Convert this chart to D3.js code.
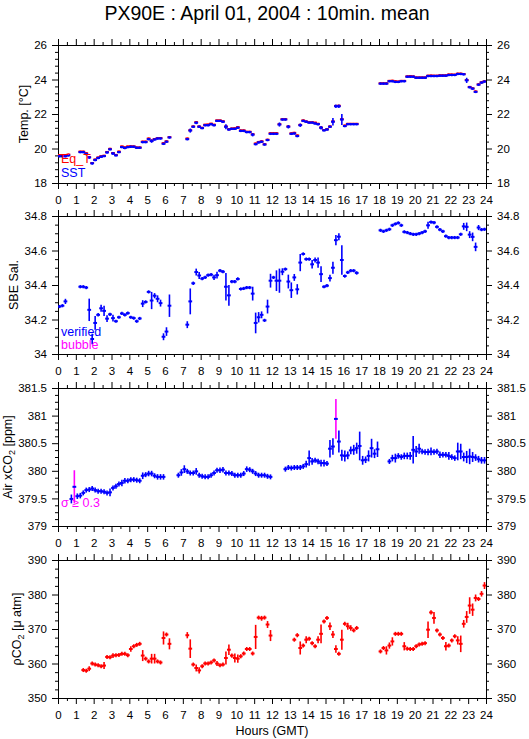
<!DOCTYPE html>
<html><head><meta charset="utf-8">
<script src="https://cdn.jsdelivr.net/npm/d3@7"></script>
<style>
body{margin:0;background:#fff}
svg{display:block;font-family:"Liberation Sans",Arial,Helvetica,sans-serif}
</style>
</head><body>
<svg id="chart" width="529" height="739"></svg>
<script>
// ---------- DATA (time = minute of day at start of the 10-min bin, value, std) ----------
const titleText = "PX90E : April 01, 2004 : 10min. mean";
const hourLabels = d3.range(0, 25);

const sstData = [[0,19.55],[10,19.55],[20,19.55],[30,19.6],[70,19.79],[80,19.79],[90,19.68,0.08],[100,19.48,0.08],[110,19.14,0.08],[120,19.33,0.04],[130,19.45],[140,19.52],[150,19.56,0.03],[160,19.77,0.08],[170,19.95,0.05],[180,19.71,0.08],[190,19.6,0.03],[200,19.79,0.06],[210,20.08],[220,20.03],[230,20.08],[240,20.1],[250,20.1],[260,20.04],[270,20.04],[280,20.37],[290,20.37],[300,20.54],[310,20.43,0.1],[320,20.52],[330,20.58],[340,20.58],[350,20.27],[360,20.39],[370,20.64,0.05],
[430,20.54],[440,21.04,0.12],[450,21.26],[460,21.49,0.08],[470,21.26],[480,21.18],[490,21.35],[500,21.35],[510,21.41],[520,21.35],[530,21.6],[540,21.6],[550,21.55],[560,21.26,0.15],[570,21.1],[580,21.14],[590,21.14],[600,21.2],[610,21.02],[620,21.02],[630,20.95],[640,20.95],[650,20.8,0.1],[660,20.25,0.05],[670,20.35],[680,20.39],[690,20.23],[700,20.49,0.06],[710,20.85],[720,20.85],[730,20.85],[740,21.39,0.12],[750,21.68],[760,21.68],[770,21.26,0.1],[780,20.85],[790,20.87],[800,20.72],[810,21.35,0.1],[820,21.6],[830,21.55],[840,21.5],[850,21.5],[860,21.45],[870,21.41],[880,21.2,0.1],[890,21.05],[900,21.1],[910,21.26],[920,21.55,0.22],[930,22.45,0.1],[940,22.45,0.1],[950,21.68,0.32],[960,21.3],[970,21.41],[980,21.41],[990,21.41],[1000,21.41],
[1080,23.76],[1090,23.76],[1100,23.76],[1110,23.9],[1120,23.9],[1130,23.86],[1140,23.86],[1150,23.9],[1160,23.9],[1170,24.16],[1180,24.16],[1190,24.16],[1200,24.1],[1210,24.1],[1220,24.1],[1230,24.1],[1240,24.2],[1250,24.2],[1260,24.2],[1270,24.2],[1280,24.22],[1290,24.22],[1300,24.22],[1310,24.26],[1320,24.26],[1330,24.26],[1340,24.32],[1350,24.32],[1360,24.3],[1370,23.95,0.15],[1380,23.55,0.04],[1390,23.47,0.05],[1400,23.28,0.05],[1410,23.7],[1420,23.82],[1430,23.88]];

const eqtData = [[0,19.62],[10,19.62],[20,19.6],[30,19.65],[70,19.82],[80,19.82],[90,19.73],[100,19.5],[110,19.16],[120,19.36],[130,19.48],[140,19.55],[150,19.58],[160,19.8],[170,19.98],[180,19.74],[190,19.63],[200,19.82],[210,20.12],[220,20.07],[230,20.12],[240,20.13],[250,20.12],[260,20.06],[270,20.06],[280,20.4],[290,20.4],[300,20.58],[310,20.46],[320,20.55],[330,20.6],[340,20.61],[350,20.31],[360,20.42],[370,20.66],
[430,20.58],[440,21.06],[450,21.28],[460,21.53],[470,21.28],[480,21.2],[490,21.38],[500,21.39],[510,21.44],[520,21.38],[530,21.63],[540,21.63],[550,21.58],[560,21.28],[570,21.12],[580,21.16],[590,21.17],[600,21.24],[610,21.05],[620,21.05],[630,20.97],[640,20.97],[650,20.83],[660,20.29],[670,20.38],[680,20.42],[690,20.25],[700,20.51],[710,20.89],[720,20.89],[730,20.89],[740,21.41],[750,21.7],[760,21.7],[770,21.28],[780,20.88],[790,20.91],[800,20.76],[810,21.37],[820,21.63],[830,21.57],[840,21.52],[850,21.52],[860,21.5],[870,21.43],[880,21.22],[890,21.07],[900,21.12],[910,21.28],[920,21.57],[930,22.47],[940,22.48],[950,21.7],[960,21.33],[970,21.43],[980,21.43],[990,21.43],[1000,21.43],
[1080,23.78],[1090,23.78],[1100,23.78],[1110,23.92],[1120,23.93],[1130,23.9],[1140,23.88],[1150,23.92],[1160,23.92],[1170,24.18],[1180,24.2],[1190,24.18],[1200,24.12],[1210,24.12],[1220,24.12],[1230,24.12],[1240,24.22],[1250,24.23],[1260,24.22],[1270,24.22],[1280,24.24],[1290,24.24],[1300,24.24],[1310,24.29],[1320,24.29],[1330,24.28],[1340,24.34],[1350,24.34],[1360,24.32],[1370,23.97],[1380,23.57],[1390,23.49],[1400,23.31],[1410,23.72],[1420,23.84],[1430,23.9]];

const salData = [[0,34.275],[10,34.28],[20,34.305,0.015],[70,34.39],[80,34.39],[90,34.385],[100,34.256,0.065],[110,34.087,0.03],[120,34.18,0.04],[130,34.227,0.01],[140,34.265,0.02],[150,34.25,0.03],[160,34.205,0.02],[170,34.23],[180,34.208,0.02],[190,34.19],[200,34.213],[210,34.235],[220,34.227],[230,34.237],[240,34.213],[250,34.208],[260,34.19],[270,34.206],[280,34.292,0.02],[290,34.302],[300,34.36],[310,34.31,0.05],[320,34.338,0.015],[330,34.32,0.02],[340,34.295,0.02],[350,34.1,0.02],[360,34.13,0.025],[370,34.28,0.065],
[430,34.17,0.02],[440,34.305,0.075],[450,34.41,0.01],[460,34.475,0.02],[470,34.455,0.02],[480,34.437],[490,34.444],[500,34.457],[510,34.46],[520,34.444,0.015],[530,34.457,0.02],[540,34.483],[550,34.477],[560,34.39,0.08],[570,34.34,0.06],[580,34.42],[590,34.42],[600,34.435],[610,34.377],[620,34.38],[630,34.385],[640,34.385],[650,34.35,0.04],[660,34.18,0.06],[670,34.213,0.03],[680,34.227,0.02],[690,34.195],[700,34.275,0.04],[710,34.425,0.04],[720,34.444],[730,34.425,0.06],[740,34.425,0.07],[750,34.477,0.02],[760,34.492],[770,34.42,0.04],[780,34.37,0.045],[790,34.444,0.02],[800,34.375,0.03],[810,34.53,0.05],[820,34.58],[830,34.55],[840,34.55],[850,34.52,0.025],[860,34.545,0.015],[870,34.53,0.03],[880,34.463,0.045],[890,34.39],[900,34.396],[910,34.44,0.02],[920,34.5,0.035],[930,34.66,0.03],[940,34.68,0.02],[950,34.545,0.085],[960,34.452],[970,34.473],[980,34.483],[990,34.483],[1000,34.47,0.01],
[1080,34.717],[1090,34.711],[1100,34.717],[1110,34.723],[1120,34.746],[1130,34.754],[1140,34.76],[1150,34.746],[1160,34.708],[1170,34.704],[1180,34.698],[1190,34.694],[1200,34.694],[1210,34.698],[1220,34.704],[1230,34.711],[1240,34.746,0.02],[1250,34.765],[1260,34.762],[1270,34.737],[1280,34.721],[1290,34.711],[1300,34.683],[1310,34.675],[1320,34.675],[1330,34.675],[1340,34.675],[1350,34.694],[1360,34.74,0.02],[1370,34.737,0.025],[1380,34.692,0.02],[1390,34.679,0.025],[1400,34.621,0.025],[1410,34.733,0.015],[1420,34.721],[1430,34.723]];

const xco2Data = [[40,379.49,0.08],[50,379.71,0.3],[60,379.54,0.05],[70,379.55,0.05],[80,379.6,0.03],[90,379.65,0.04],[100,379.66,0.03],[110,379.68,0.03],[120,379.65,0.03],[130,379.63,0.03],[140,379.63,0.03],[150,379.62,0.03],[160,379.6,0.03],[170,379.61,0.07],[180,379.69,0.03],[190,379.72,0.03],[200,379.76,0.03],[210,379.78,0.06],[220,379.82,0.05],[230,379.82,0.04],[240,379.84,0.04],[250,379.84,0.03],[260,379.83,0.03],[270,379.82,0.03],[280,379.91,0.06],[290,379.93,0.04],[300,379.95,0.05],[310,379.95,0.05],[320,379.91,0.03],[330,379.89,0.05],[340,379.89,0.05],[350,379.89,0.05],
[400,379.92,0.03],[410,379.97,0.06],[420,380.03,0.07],[430,379.99,0.04],[440,379.96,0.03],[450,379.96,0.04],[460,379.99,0.06],[470,379.92,0.03],[480,379.9,0.03],[490,379.89,0.03],[500,379.89,0.03],[510,379.92,0.03],[520,379.96,0.03],[530,380.01,0.03],[540,380.01,0.05],[550,380.02,0.05],[560,379.96,0.03],[570,379.96,0.03],[580,379.95,0.03],[590,379.92,0.03],[600,379.92,0.03],[610,379.92,0.03],[620,379.95,0.03],[630,380.03,0.05],[640,380.02,0.03],[650,379.99,0.04],[660,379.95,0.03],[670,379.92,0.03],[680,379.92,0.03],[690,379.92,0.03],[700,379.9,0.03],[710,379.89,0.02],
[760,380.03,0.03],[770,380.06,0.04],[780,380.05,0.03],[790,380.06,0.03],[800,380.06,0.03],[810,380.06,0.03],[820,380.08,0.03],[830,380.12,0.06],[840,380.23,0.14],[850,380.17,0.06],[860,380.19,0.03],[870,380.17,0.05],[880,380.14,0.06],[890,380.14,0.06],[900,380.13,0.04],[910,380.4,0.16],[920,380.44,0.15],[930,380.94,0.36],[940,380.53,0.2],[950,380.28,0.1],[960,380.27,0.1],[970,380.28,0.07],[980,380.37,0.07],[990,380.38,0.09],[1000,380.41,0.1],[1010,380.45,0.26],[1020,380.19,0.08],[1030,380.2,0.06],[1040,380.27,0.1],[1050,380.41,0.17],[1060,380.31,0.08],[1070,380.39,0.14],
[1110,380.17,0.04],[1120,380.23,0.06],[1130,380.23,0.08],[1140,380.27,0.05],[1150,380.25,0.05],[1160,380.27,0.06],[1170,380.27,0.06],[1180,380.27,0.07],[1190,380.38,0.25],[1200,380.35,0.1],[1210,380.4,0.09],[1220,380.35,0.05],[1230,380.34,0.05],[1240,380.34,0.06],[1250,380.35,0.07],[1260,380.34,0.05],[1270,380.35,0.05],[1280,380.29,0.06],[1290,380.29,0.05],[1300,380.29,0.05],[1310,380.27,0.07],[1320,380.25,0.05],[1330,380.23,0.05],[1340,380.35,0.16],[1350,380.35,0.14],[1360,380.25,0.08],[1370,380.25,0.11],[1380,380.26,0.14],[1390,380.25,0.09],[1400,380.24,0.06],[1410,380.21,0.06],[1420,380.19,0.06],[1430,380.19,0.06]];
const sigmaLimit = 0.3;

const pco2Data = [[80,358.1,0.2],[90,357.9,0.2],[100,358.5,0.7],[110,360,0.3],[120,359.7,0.3],[130,359.5,0.3],[140,359.2,0.5],[150,359.4,1.0],[160,361.9,0.3],[170,361.8,0.3],[180,362.3,0.7],[190,362.4,0.3],[200,362.5,0.3],[210,362.8,0.3],[220,362.8,0.4],[230,362.4,0.3],[240,364.2,0.8],[250,365,0.3],[260,365.4,0.3],[270,365.7,0.3],[280,362.3,1.6],[290,361.4,0.3],[300,360.6,0.4],[310,361.4,1.4],[320,361.4,1.4],[330,360.6,0.3],[340,360.3,0.3],[350,367.4,1.9],[360,368.4,0.4],[370,365.7,1.6],
[430,368.2,0.9],[440,364.3,2.7],[450,359.7,0.4],[460,358.7,1],[470,358,0.9],[480,359.2,0.4],[490,360,0.3],[500,360,0.3],[510,360.3,0.3],[520,360.9,0.4],[530,360,0.7],[540,359.5,0.3],[550,359.7,0.3],[560,361.6,1.9],[570,364,1.5],[580,362.3,0.6],[590,361.6,1.3],[600,361.4,1.2],[610,362.1,0.6],[620,362.9,0.3],[630,364.2,0.4],[640,364.2,0.3],[650,362.9,0.5],[660,367.7,3.5],[670,373.3,0.4],[680,373.1,0.7],[690,373.3,0.3],[700,371.3,1],[710,368.1,1.6],
[790,366.9,0.4],[800,368.2,0.6],[810,364.5,1.9],[820,365.2,0.3],[830,366.9,1],[840,367.2,0.5],[850,365.9,0.4],[860,365,0.5],[870,366.9,1],[880,368.6,2.7],[890,372.2,0.4],[900,373.2,0.3],[910,370.8,1.1],[920,368.4,1],[930,364.2,1.1],[940,362.8,0.3],[950,366.9,2.9],[960,371.5,0.4],[970,370.8,1],[980,370.3,0.8],[990,369.6,0.4],[1000,370.3,0.3],
[1080,363.5,0.3],[1090,364.5,0.4],[1100,363.8,1.2],[1110,365.2,0.9],[1120,366.4,1.2],[1130,368.6,0.5],[1140,368.6,0.5],[1150,368.6,0.5],[1160,365,1.2],[1170,364.3,0.3],[1180,364.2,0.3],[1190,364.2,0.3],[1200,365,0.5],[1210,365.5,0.3],[1220,365.7,0.3],[1230,365.9,0.3],[1240,369.8,2.4],[1250,374.8,0.6],[1260,373.2,1.7],[1270,369.6,0.5],[1280,368.4,0.3],[1290,367.4,0.3],[1300,365,1.2],[1310,365.2,0.5],[1320,366.7,0.5],[1330,367.9,0.4],[1340,366.7,1.2],[1350,365.7,2.4],[1360,371.5,1.1],[1370,373.5,1.7],[1380,376.8,2.4],[1390,375.6,1.8],[1400,379,1],[1410,378.7,0.4],[1420,380.2,0.8],[1430,382.6,1]];

const tempTicks = [18, 20, 22, 24, 26];
const salTicks = [34, 34.2, 34.4, 34.6, 34.8];
const xco2Ticks = [379, 379.5, 380, 380.5, 381, 381.5];
const pco2Ticks = [350, 360, 370, 380, 390];

// ---------- DRAWING ----------
const BLUE = "#0000ff", RED = "#ff0000", MAGENTA = "#ff00ff";
const svg = d3.select("#chart");
const L = 58, R = 486;
const x = d3.scaleLinear().domain([0, 24]).range([L, R]);

svg.append("text").attr("x", 267).attr("y", 19.5).attr("text-anchor", "middle")
  .attr("font-size", 19.5).text(titleText);

function makePanel(opts) {
  const { top, bottom, ticks, minorStep, label, labelX, id } = opts;
  const y = d3.scaleLinear().domain([ticks[0], ticks[ticks.length - 1]]).range([bottom, top]);
  const g = svg.append("g");
  const minors = d3.range(ticks[0], ticks[ticks.length - 1] + 1e-9, minorStep)
    .filter(v => !ticks.some(t => Math.abs(t - v) < 1e-6));
  const hourMinor = d3.range(0.5, 24, 1);
  const fmt = d3.format("~g");
  function axis(gen, tr, vals, size, pad, showLabels) {
    const a = gen.tickValues(vals).tickSize(size).tickSizeOuter(0).tickPadding(pad);
    if (!showLabels) a.tickFormat("");
    const gg = g.append("g").attr("transform", tr).call(a);
    gg.select(".domain").remove();
    gg.selectAll("line").attr("stroke", "#000").attr("stroke-width", 1);
    gg.selectAll("text").attr("font-size", 11.5).attr("fill", "#000")
      .attr("font-family", '"Liberation Sans", Arial, sans-serif');
    return gg;
  }
  axis(d3.axisLeft(y).tickFormat(fmt), `translate(${L},0)`, ticks, 6, 5, true);
  axis(d3.axisLeft(y), `translate(${L},0)`, minors, 3, 5, false);
  axis(d3.axisRight(y).tickFormat(fmt), `translate(${R},0)`, ticks, 6, 5, true);
  axis(d3.axisRight(y), `translate(${R},0)`, minors, 3, 5, false);
  axis(d3.axisTop(x), `translate(0,${top})`, hourLabels, 6, 3, false);
  axis(d3.axisTop(x), `translate(0,${top})`, hourMinor, 3, 3, false);
  axis(d3.axisBottom(x).tickFormat(d3.format("d")), `translate(0,${bottom})`, hourLabels, 6, 7, true);
  axis(d3.axisBottom(x), `translate(0,${bottom})`, hourMinor, 3, 3, false);

  g.append("rect").attr("x", L).attr("y", top).attr("width", R - L).attr("height", bottom - top)
    .attr("fill", "none").attr("stroke", "#000").attr("stroke-width", 1).attr("shape-rendering", "crispEdges");

  svg.append("clipPath").attr("id", "clip" + id).append("rect")
    .attr("x", L).attr("y", top).attr("width", R - L).attr("height", bottom - top);
  const dg = svg.append("g").attr("clip-path", `url(#clip${id})`);

  const lt = svg.append("text")
    .attr("transform", `translate(${labelX},${(top + bottom) / 2}) rotate(-90)`)
    .attr("text-anchor", "middle").attr("font-size", 12.5).attr("fill", "#000");
  label(lt);
  return { y, dg };
}

function drawMarks(dg, y, data, opts) {
  const { color, minHalf, vw = 1.6, hw = 2, vColorFn } = opts;
  const pts = data.map(d => {
    const m = d[0], v = d[1], e = d[2] || 0;
    return { x0: x(m / 60), x1: x((m + 10) / 60), v, e };
  });
  const g = dg.append("g");
  g.selectAll("line.v").data(pts).join("line").attr("class", "v")
    .attr("x1", d => (d.x0 + d.x1) / 2).attr("x2", d => (d.x0 + d.x1) / 2)
    .attr("y1", d => Math.min(y(d.v + d.e), y(d.v) - minHalf))
    .attr("y2", d => Math.max(y(d.v - d.e), y(d.v) + minHalf))
    .attr("stroke", d => vColorFn ? vColorFn(d) : color).attr("stroke-width", vw);
  g.selectAll("line.h").data(pts).join("line").attr("class", "h")
    .attr("x1", d => d.x0 - 0.4).attr("x2", d => d.x1 + 0.4)
    .attr("y1", d => y(d.v)).attr("y2", d => y(d.v))
    .attr("stroke", color).attr("stroke-width", hw);
}

function sub2(t, before, after) {
  t.append("tspan").text(before);
  t.append("tspan").attr("dy", 3).attr("font-size", 9).text("2");
  t.append("tspan").attr("dy", -3).text(after);
}

// Panel 1: temperature
const p1 = makePanel({ id: 1, top: 45, bottom: 183, ticks: tempTicks, minorStep: 0.4, labelX: 28,
  label: t => t.text("Temp. [°C]") });
drawMarks(p1.dg, p1.y, eqtData, { color: RED, minHalf: 1 });
drawMarks(p1.dg, p1.y, sstData, { color: BLUE, minHalf: 1.2 });
svg.append("text").attr("x", 61).attr("y", 163).attr("font-size", 12.5).attr("fill", RED).text("Eq_T");
svg.append("text").attr("x", 61).attr("y", 177).attr("font-size", 12.5).attr("fill", BLUE).text("SST");

// Panel 2: salinity
const p2 = makePanel({ id: 2, top: 216, bottom: 354, ticks: salTicks, minorStep: 0.05, labelX: 18,
  label: t => t.text("SBE Sal.") });
drawMarks(p2.dg, p2.y, salData, { color: BLUE, minHalf: 1.6 });
svg.append("text").attr("x", 61).attr("y", 336).attr("font-size", 12.5).attr("fill", BLUE).text("verified");
svg.append("text").attr("x", 61).attr("y", 349).attr("font-size", 12.5).attr("fill", MAGENTA).text("bubble");

// Panel 3: air xCO2
const p3 = makePanel({ id: 3, top: 388, bottom: 526, ticks: xco2Ticks, minorStep: 0.125, labelX: 12,
  label: t => sub2(t, "Air xCO", " [ppm]") });
drawMarks(p3.dg, p3.y, xco2Data, { color: BLUE, minHalf: 2.5,
  vColorFn: d => d.e >= sigmaLimit ? MAGENTA : BLUE });
svg.append("text").attr("x", 61).attr("y", 507).attr("font-size", 12.5).attr("fill", MAGENTA).text("σ ≥ 0.3");

// Panel 4: pCO2
const p4 = makePanel({ id: 4, top: 560, bottom: 698, ticks: pco2Ticks, minorStep: 2.5, labelX: 21,
  label: t => sub2(t, "ρCO", " [μ atm]") });
drawMarks(p4.dg, p4.y, pco2Data, { color: RED, minHalf: 2 });

svg.append("text").attr("x", 272).attr("y", 735).attr("text-anchor", "middle")
  .attr("font-size", 12.5).text("Hours (GMT)");
</script>
</body></html>
